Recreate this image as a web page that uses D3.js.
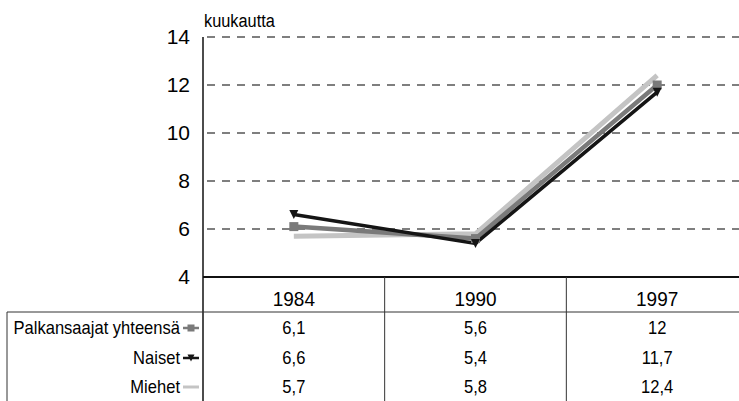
<!DOCTYPE html>
<html>
<head>
<meta charset="utf-8">
<script src="https://cdn.jsdelivr.net/npm/d3@7"></script>
<style>
  body { margin: 0; background: #fff; }
  text { font-family: "Liberation Sans", Arial, sans-serif; fill: #000; }
</style>
</head>
<body>
<div id="chart-area"></div>
<script>
// vuodet ja sarjat
var years = ["1984", "1990", "1997"];
var seriesNames = ["Palkansaajat yhteensä", "Naiset", "Miehet"];
var palkansaajat = [6.1, 5.6, 12];
var naiset = [6.6, 5.4, 11.7];
var miehet = [5.7, 5.8, 12.4];
var valueLabels = [["6,1", "5,6", "12"], ["6,6", "5,4", "11,7"], ["5,7", "5,8", "12,4"]];
var yTicks = [4, 6, 8, 10, 12, 14];

var W = 739, H = 401;
var svg = d3.select("#chart-area")
    .append("svg")
    .attr("width", W)
    .attr("height", H);

// huom. "top" on varattu selaimessa, siksi plotTop
var plotLeft = 203, plotRight = 748, plotTop = 37, plotBottom = 277;

var x = d3.scalePoint()
    .domain(years)
    .range([plotLeft, plotRight])
    .padding(0.5);

var y = d3.scaleLinear()
    .domain([4, 14])
    .range([plotBottom, plotTop]);

// kapea fontti: skaalataan vaakasuunnassa
function addText(tx, ty, str, size, anchor, sx) {
    return svg.append("text")
        .attr("transform", "translate(" + tx + "," + ty + ") scale(" + (sx || 0.86) + ",1)")
        .attr("text-anchor", anchor || "start")
        .attr("font-size", size)
        .text(str);
}

// apuviivat katkoviivoina
svg.selectAll(".grid")
    .data(yTicks.filter(function (d) { return d > 4; }))
    .enter()
    .append("line")
    .attr("x1", plotLeft + 4)
    .attr("x2", W)
    .attr("y1", function (d) { return y(d); })
    .attr("y2", function (d) { return y(d); })
    .attr("stroke", "#555")
    .attr("stroke-width", 1.3)
    .attr("stroke-dasharray", "8,7");

// y-akselin luvut
yTicks.forEach(function (d) {
    addText(190, y(d) + 7, d, 21, "end", 1);
});

addText(204, 27, "kuukautta", 19);

// akselit
svg.append("line")
    .attr("x1", plotLeft).attr("x2", plotLeft)
    .attr("y1", plotTop).attr("y2", H)
    .attr("stroke", "#111").attr("stroke-width", 1.5);
svg.append("line")
    .attr("x1", plotLeft).attr("x2", W)
    .attr("y1", plotBottom).attr("y2", plotBottom)
    .attr("stroke", "#111").attr("stroke-width", 2);

// taulukon viivat
var step = x.step();
var colLines = years.slice(1).map(function (d) { return x(d) - step / 2; });
svg.selectAll(".col")
    .data(colLines)
    .enter()
    .append("line")
    .attr("x1", function (d) { return d; })
    .attr("x2", function (d) { return d; })
    .attr("y1", plotBottom)
    .attr("y2", H)
    .attr("stroke", "#333").attr("stroke-width", 1);
svg.append("line")
    .attr("x1", 7).attr("x2", W)
    .attr("y1", 312).attr("y2", 312)
    .attr("stroke", "#333").attr("stroke-width", 1);
svg.append("line")
    .attr("x1", 7).attr("x2", 7)
    .attr("y1", 312).attr("y2", H)
    .attr("stroke", "#333").attr("stroke-width", 1);

// vuodet
years.forEach(function (d) {
    addText(x(d), 306, d, 20, "middle", 0.95);
});

// sarjojen tyylit
var series = [
    { name: seriesNames[0], values: palkansaajat, color: "#7a7a7a", width: 4.5, marker: "square" },
    { name: seriesNames[1], values: naiset, color: "#151515", width: 3.5, marker: "triangle" },
    { name: seriesNames[2], values: miehet, color: "#c4c4c4", width: 5, marker: "none" }
];
var drawOrder = [series[2], series[0], series[1]];

var line = d3.line()
    .x(function (d, i) { return x(years[i]); })
    .y(function (d) { return y(d); });

svg.selectAll(".serie")
    .data(drawOrder)
    .enter()
    .append("path")
    .attr("d", function (d) { return line(d.values); })
    .attr("fill", "none")
    .attr("stroke", function (d) { return d.color; })
    .attr("stroke-width", function (d) { return d.width; })
    .attr("stroke-linejoin", "miter");

function addMarker(g, s, cx, cy, size) {
    if (s.marker === "square") {
        g.append("rect")
            .attr("x", cx - size / 2).attr("y", cy - size / 2)
            .attr("width", size).attr("height", size)
            .attr("fill", s.color);
    } else if (s.marker === "triangle") {
        g.append("path")
            .attr("d", "M" + (cx - size / 2) + "," + (cy - size / 2) + "L" + (cx + size / 2) + "," + (cy - size / 2) + "L" + cx + "," + (cy + size / 2) + "Z")
            .attr("fill", s.color);
    }
}

drawOrder.forEach(function (s) {
    s.values.forEach(function (v, i) {
        addMarker(svg, s, x(years[i]), y(v), 9);
    });
});

// taulukon rivit
var rowY = [334, 364, 393];
series.forEach(function (s, r) {
    addText(180, rowY[r], s.name, 18, "end", 0.92);
    var ly = rowY[r] - 6;
    svg.append("line")
        .attr("x1", 183).attr("x2", 199)
        .attr("y1", ly).attr("y2", ly)
        .attr("stroke", s.color)
        .attr("stroke-width", s.marker === "none" ? 3 : 2.5);
    addMarker(svg, s, 191, ly, 7);
    s.values.forEach(function (v, i) {
        addText(x(years[i]), rowY[r], valueLabels[r][i], 18, "middle", 0.92);
    });
});
</script>
</body>
</html>
